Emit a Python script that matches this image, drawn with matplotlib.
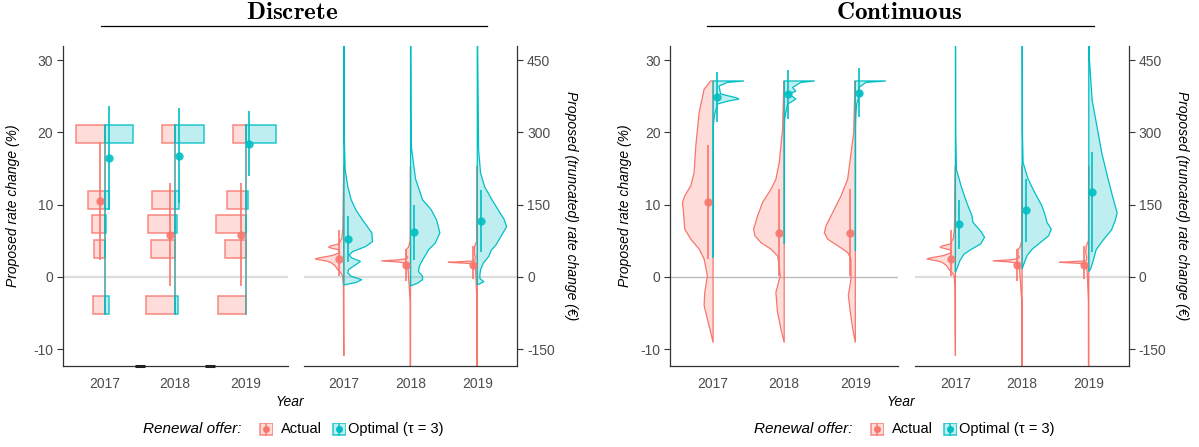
import numpy as np
import matplotlib
matplotlib.use('Agg')
import matplotlib.pyplot as plt
from matplotlib.patches import Rectangle, Polygon
from matplotlib.lines import Line2D

plt.rcParams['font.family'] = ['Liberation Sans', 'DejaVu Sans']
plt.rcParams['mathtext.fontset'] = 'cm'

# ---------------- data ----------------
years = ['2017', '2018', '2019']
panel_titles = ['Discrete', 'Continuous']
series_names = ['Actual', 'Optimal (\u03c4 = 3)']
legend_title = 'Renewal offer:'
ylabel_pct = 'Proposed rate change (%)'
ylabel_eur = 'Proposed (truncated) rate change (\u20ac)'
xlabel = 'Year'
pct_ticks = [-10, 0, 10, 20, 30]
eur_ticks = [-150, 0, 150, 300, 450]

# discrete offer levels (%) and density (half-width) per year
disc_levels = [19.75, 10.6, 7.3, 3.85, -3.85]
disc_actual_dens = [[0.414, 0.242, 0.19, 0.154, 0.168],
                    [0.188, 0.33, 0.39, 0.34, 0.42],
                    [0.18, 0.27, 0.42, 0.29, 0.39]]
disc_optimal_dens = [[0.406, 0.056, 0.02, 0.007, 0.056],
                     [0.41, 0.06, 0.02, 0.0, 0.035],
                     [0.43, 0.03, 0.01, 0.0, 0.0]]

# point ranges
disc_pct_actual_mid = [10.5, 5.8, 5.8]
disc_pct_actual_lo = [2.35, -1.3, -1.3]
disc_pct_actual_hi = [18.6, 13.0, 13.0]
disc_pct_optimal_mid = [16.4, 16.65, 18.35]
disc_pct_optimal_lo = [9.3, 10.2, 13.9]
disc_pct_optimal_hi = [23.6, 23.3, 22.9]

cont_pct_actual_mid = [10.3, 6.0, 6.1]
cont_pct_actual_lo = [2.4, 0.1, 0.1]
cont_pct_actual_hi = [18.3, 12.2, 12.2]
cont_pct_optimal_mid = [24.9, 25.3, 25.5]
cont_pct_optimal_lo = [21.4, 21.9, 22.1]
cont_pct_optimal_hi = [28.3, 28.6, 28.9]

eur_actual_mid = [37, 24, 25]
eur_actual_lo = [2, -9, -5]
eur_actual_hi = [97, 58, 63]
disc_eur_optimal_mid = [79, 93, 115]
disc_eur_optimal_lo = [30, 35, 52]
disc_eur_optimal_hi = [126, 150, 180]
cont_eur_optimal_mid = [109, 138, 175]
cont_eur_optimal_lo = [57, 73, 52]
cont_eur_optimal_hi = [160, 203, 260]

# violin profiles: values and density half-widths
cont_pct_actual_vals = [
    [-9.1, -7.7, -5.85, -4.0, -2.17, 0.14, 2.45, 3.83, 5.2, 6.6, 8.9, 10.3, 11.2, 12.6, 14.4, 18.1, 22.7, 25.96, 27.1],
    [-9.1, -7.2, -4.9, -2.17, 0.14, 1.52, 2.9, 3.83, 4.74, 5.67, 6.6, 8.4, 10.3, 12.1, 13.5, 15.8, 20.4, 27.1],
    [-9.1, -7.2, -4.9, -2.6, -0.32, 2.45, 3.36, 4.3, 5.2, 6.1, 7.05, 8.9, 11.2, 13.5, 19.96, 27.1]]
cont_pct_actual_dens = [
    [0, 0.033, 0.08, 0.126, 0.117, 0.08, 0.126, 0.196, 0.313, 0.398, 0.416, 0.43, 0.398, 0.313, 0.267, 0.243, 0.196, 0.126, 0.033],
    [0, 0.047, 0.094, 0.117, 0.056, 0.07, 0.094, 0.187, 0.328, 0.412, 0.43, 0.375, 0.304, 0.187, 0.117, 0.07, 0.023, 0.005],
    [0, 0.037, 0.07, 0.098, 0.061, 0.061, 0.108, 0.248, 0.388, 0.435, 0.412, 0.318, 0.201, 0.108, 0.023, 0.005]]
cont_pct_optimal_vals = [
    [2.67, 21.0, 22.0, 22.7, 23.9, 24.3, 24.6, 24.8, 25.3, 25.7, 26.4, 26.9, 27.1],
    [4.56, 21.0, 22.0, 22.7, 23.9, 24.6, 25.3, 25.7, 26.2, 26.9, 27.1],
    [3.6, 21.0, 22.7, 23.9, 24.6, 25.0, 25.3, 25.7, 26.2, 26.9, 27.1]]
cont_pct_optimal_dens = [
    [0.003, 0.005, 0.014, 0.028, 0.061, 0.2, 0.365, 0.318, 0.107, 0.098, 0.084, 0.2, 0.435],
    [0.003, 0.004, 0.009, 0.023, 0.047, 0.164, 0.07, 0.164, 0.117, 0.234, 0.43],
    [0.003, 0.004, 0.01, 0.02, 0.04, 0.05, 0.09, 0.06, 0.05, 0.15, 0.43]]

eur_actual_vals = [
    [-164, -100, -20, 2, 9, 16, 23, 30, 33, 37, 39, 44, 50, 56, 61, 64, 68, 80, 100, 230],
    [-300, -50, 0, 20, 28, 31, 33, 35, 37, 40, 45, 50, 56, 62, 75, 230],
    [-300, -50, 0, 20, 27, 29, 30, 31, 33, 40, 50, 63, 75, 230]]
eur_actual_dens = [
    [0, 0.004, 0.006, 0.02, 0.05, 0.1, 0.13, 0.2, 0.27, 0.43, 0.38, 0.18, 0.06, 0.08, 0.23, 0.2, 0.08, 0.03, 0.015, 0.002],
    [0.004, 0.006, 0.03, 0.04, 0.06, 0.2, 0.44, 0.2, 0.08, 0.04, 0.065, 0.06, 0.065, 0.03, 0.005, 0.002],
    [0.004, 0.006, 0.02, 0.03, 0.04, 0.3, 0.44, 0.3, 0.04, 0.03, 0.045, 0.04, 0.005, 0.002]]

disc_eur_optimal_vals = [
    [-17, -12, -6, 1, 8, 15, 25, 32, 39, 45, 52, 63, 73, 91, 118, 139, 160, 187, 222, 300, 520],
    [-19, -13, -6, 1, 11, 21, 35, 46, 56, 70, 91, 118, 139, 160, 203, 272, 520],
    [-17, -10, -4, 5, 15, 28, 42, 55, 66, 85, 104, 120, 133, 160, 187, 215, 263, 520]]
disc_eur_optimal_dens = [
    [0, 0.18, 0.27, 0.11, 0.06, 0.07, 0.18, 0.25, 0.12, 0.08, 0.13, 0.33, 0.43, 0.42, 0.28, 0.18, 0.11, 0.06, 0.02, 0.005, 0.003],
    [0, 0.11, 0.18, 0.18, 0.12, 0.13, 0.18, 0.23, 0.27, 0.37, 0.44, 0.39, 0.31, 0.18, 0.075, 0.01, 0.003],
    [0, 0.1, 0.04, 0.04, 0.05, 0.09, 0.17, 0.21, 0.28, 0.36, 0.44, 0.40, 0.34, 0.22, 0.11, 0.05, 0.02, 0.003]]

cont_eur_optimal_vals = [
    [9, 19, 33, 47, 57, 68, 82, 95, 113, 127, 147, 182, 223, 300, 520],
    [16, 30, 44, 57, 71, 85, 99, 113, 127, 147, 175, 203, 237, 300, 520],
    [11, 15, 35, 56, 77, 97, 118, 133, 160, 208, 257, 299, 367, 450, 520]]
cont_eur_optimal_dens = [
    [0, 0.03, 0.065, 0.129, 0.238, 0.378, 0.437, 0.378, 0.263, 0.248, 0.189, 0.099, 0.015, 0.005, 0.003],
    [0, 0.035, 0.075, 0.149, 0.273, 0.397, 0.437, 0.373, 0.348, 0.298, 0.189, 0.089, 0.015, 0.005, 0.003],
    [0, 0.024, 0.07, 0.11, 0.22, 0.34, 0.40, 0.425, 0.37, 0.28, 0.195, 0.14, 0.05, 0.01, 0.003]]

# ---------------- style ----------------
RED = '#F8766D'
CYAN = '#00BFC4'
TXT = '#4D4D4D'
W, H = 1199, 447
PCT_LIM = (-12.35, 31.94)
EUR_LIM = (PCT_LIM[0] * 15, PCT_LIM[1] * 15)
XLIM = (0.4, 3.6)
ACT_OFF, OPT_OFF = -0.07, 0.055

fig = plt.figure(figsize=(W / 100, H / 100), dpi=100)
fig.patch.set_facecolor('white')


def fx(x):
    return x / W


def fy(y):
    return 1 - y / H


def add_ax(x0, x1, y0=46, y1=366):
    return fig.add_axes([x0 / W, 1 - y1 / H, (x1 - x0) / W, (y1 - y0) / H])


def style(ax, side, lim, ticks, zcolor='#DDDDDD', zlw=1.6):
    ax.set_xlim(*XLIM)
    ax.set_ylim(*lim)
    ax.set_xticks([1, 2, 3])
    ax.set_xticklabels(years)
    ax.set_yticks(ticks)
    ax.set_yticklabels([str(t) for t in ticks])
    ax.spines['top'].set_visible(False)
    if side == 'left':
        ax.spines['right'].set_visible(False)
    else:
        ax.spines['left'].set_visible(False)
        ax.yaxis.tick_right()
    for s in ax.spines.values():
        s.set_color('#333333')
        s.set_linewidth(0.9)
    ax.tick_params(axis='x', length=0, pad=8, labelsize=10, labelcolor=TXT)
    ax.tick_params(axis='y', length=4.5, width=0.8, color='#333333', pad=2.5,
                   labelsize=10, labelcolor=TXT)
    ax.patch.set_alpha(0)
    ax.axhline(0, color=zcolor, lw=zlw, zorder=0.5)


def half_violin(ax, c, vals, dens, color, side):
    xs = [c] + [c + side * d for d in dens] + [c]
    ys = [vals[0]] + list(vals) + [vals[-1]]
    poly = Polygon(np.column_stack([xs, ys]), closed=True,
                   facecolor=matplotlib.colors.to_rgba(color, 0.25),
                   edgecolor=color, lw=0.9, zorder=2)
    ax.add_patch(poly)


def pointrange(ax, x, mid, lo, hi, color):
    ax.plot([x, x], [lo, hi], color=color, lw=1.4, alpha=0.85,
            solid_capstyle='butt', zorder=5)
    ax.plot([x], [mid], 'o', color=color, ms=6, alpha=0.9, mec='none', zorder=6)


def draw_panel(px0, title, title_cx, uline, discrete):
    if discrete:
        ax1 = add_ax(62.7, 287.7)
        ax2 = add_ax(303.8, 517.3)
    else:
        ax1 = add_ax(670.4, 898.0)
        ax2 = add_ax(915.4, 1128.8)
    style(ax1, 'left', PCT_LIM, pct_ticks,
          zcolor='#DDDDDD' if discrete else '#BBBBBB', zlw=1.6 if discrete else 1.0)
    style(ax2, 'right', EUR_LIM, eur_ticks)

    for i in range(3):
        c = i + 1
        if discrete:
            top = max(disc_levels) + 1.25
            bot = min(disc_levels) - 1.25
            for lv, wa in zip(disc_levels, disc_actual_dens[i]):
                if wa > 0:
                    ax1.add_patch(Rectangle((c - wa, lv - 1.25), wa, 2.5,
                                            facecolor=matplotlib.colors.to_rgba(RED, 0.25),
                                            edgecolor=matplotlib.colors.to_rgba(RED, 0.85),
                                            lw=1.1, zorder=2))
            ax1.plot([c, c], [bot, top], color=RED, lw=1.1, alpha=0.85, zorder=2)
            for lv, wo in zip(disc_levels, disc_optimal_dens[i]):
                if wo > 0:
                    ax1.add_patch(Rectangle((c, lv - 1.25), wo, 2.5,
                                            facecolor=matplotlib.colors.to_rgba(CYAN, 0.25),
                                            edgecolor=matplotlib.colors.to_rgba(CYAN, 0.85),
                                            lw=1.1, zorder=3))
            ax1.plot([c, c], [bot, top], color=CYAN, lw=1.1, alpha=0.7, zorder=3)
            pointrange(ax1, c + ACT_OFF, disc_pct_actual_mid[i], disc_pct_actual_lo[i],
                       disc_pct_actual_hi[i], RED)
            pointrange(ax1, c + OPT_OFF, disc_pct_optimal_mid[i], disc_pct_optimal_lo[i],
                       disc_pct_optimal_hi[i], CYAN)
            half_violin(ax2, c, eur_actual_vals[i], eur_actual_dens[i], RED, -1)
            half_violin(ax2, c, disc_eur_optimal_vals[i], disc_eur_optimal_dens[i], CYAN, 1)
            pointrange(ax2, c + ACT_OFF, eur_actual_mid[i], eur_actual_lo[i],
                       eur_actual_hi[i], RED)
            pointrange(ax2, c + OPT_OFF, disc_eur_optimal_mid[i], disc_eur_optimal_lo[i],
                       disc_eur_optimal_hi[i], CYAN)
        else:
            half_violin(ax1, c, cont_pct_actual_vals[i], cont_pct_actual_dens[i], RED, -1)
            half_violin(ax1, c, cont_pct_optimal_vals[i], cont_pct_optimal_dens[i], CYAN, 1)
            pointrange(ax1, c + ACT_OFF, cont_pct_actual_mid[i], cont_pct_actual_lo[i],
                       cont_pct_actual_hi[i], RED)
            pointrange(ax1, c + OPT_OFF, cont_pct_optimal_mid[i], cont_pct_optimal_lo[i],
                       cont_pct_optimal_hi[i], CYAN)
            half_violin(ax2, c, eur_actual_vals[i], eur_actual_dens[i], RED, -1)
            half_violin(ax2, c, cont_eur_optimal_vals[i], cont_eur_optimal_dens[i], CYAN, 1)
            pointrange(ax2, c + ACT_OFF, eur_actual_mid[i], eur_actual_lo[i],
                       eur_actual_hi[i], RED)
            pointrange(ax2, c + OPT_OFF, cont_eur_optimal_mid[i], cont_eur_optimal_lo[i],
                       cont_eur_optimal_hi[i], CYAN)

    if discrete:
        for a, b in [(1.43, 1.57), (2.43, 2.57)]:
            ax1.plot([a, b], [PCT_LIM[0], PCT_LIM[0]], color='#222222', lw=2.2,
                     solid_capstyle='butt', clip_on=False, zorder=10)

    # titles
    fig.text(fx(title_cx), fy(12), r'$\mathbf{%s}$' % title, fontsize=18,
             ha='center', va='center')
    fig.add_artist(Line2D([fx(uline[0]), fx(uline[1])], [fy(26), fy(26)],
                          color='black', lw=0.9))
    # axis labels
    fig.text(fx(13.5 + px0), fy(206), ylabel_pct, rotation=90, fontsize=10,
             style='italic', ha='center', va='center')
    fig.text(fx(571 + px0), fy(206), ylabel_eur, rotation=-90, fontsize=10,
             style='italic', ha='center', va='center')
    fig.text(fx(291 + px0 - 1), fy(401.5), xlabel, fontsize=10, style='italic',
             ha='center', va='center')

    # legend
    fig.text(fx(142.7 + px0), fy(429), legend_title, fontsize=11, style='italic',
             ha='left', va='center')
    for kx, tx, col, name in [(259.3, 280.7, RED, series_names[0]),
                              (332.3, 348.3, CYAN, series_names[1])]:
        kax = fig.add_axes([fx(kx + px0), fy(436), 14 / W, 13.5 / H])
        kax.set_xlim(0, 1)
        kax.set_ylim(0, 1)
        kax.axis('off')
        kax.add_patch(Rectangle((0.04, 0.04), 0.92, 0.92,
                                facecolor=matplotlib.colors.to_rgba(col, 0.25),
                                edgecolor=matplotlib.colors.to_rgba(col, 0.85), lw=1.1))
        kax.plot([0.5, 0.5], [0.04, 0.96], color=col, lw=1.2, alpha=0.85)
        kax.plot([0.5], [0.5], 'o', color=col, ms=5, mec='none')
        fig.text(fx(tx + px0), fy(429), name, fontsize=10.5, ha='left', va='center')


draw_panel(0, panel_titles[0], 292, (101, 487), True)
draw_panel(611, panel_titles[1], 899, (706.5, 1093.5), False)

fig.savefig('out.png', dpi=100, facecolor='white')
